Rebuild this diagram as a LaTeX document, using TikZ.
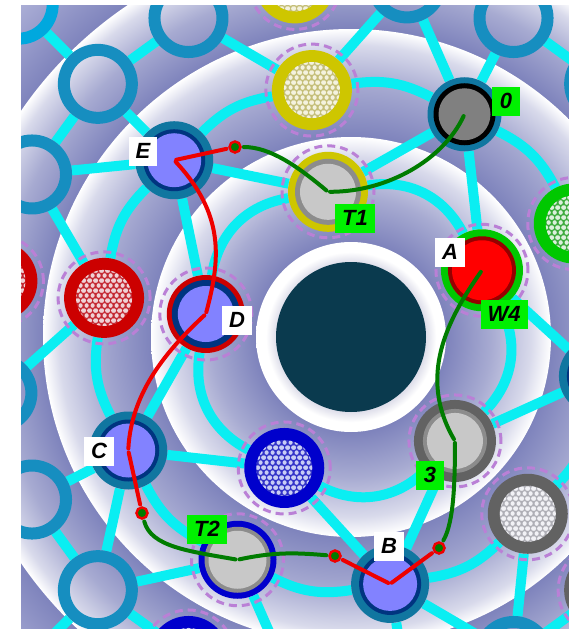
\documentclass[tikz,border=0pt]{standalone}
\usepackage{fontspec}
\setmainfont{Liberation Sans}
\usetikzlibrary{calc,patterns}

\definecolor{bandblue}{RGB}{126,131,188}
\colorlet{bandmid}{bandblue!68!white}
\colorlet{bandpale}{bandblue!30!white}
\definecolor{bandlight}{RGB}{178,181,218}
\definecolor{haloin}{RGB}{222,222,234}
\definecolor{coredark}{RGB}{10,58,78}
\definecolor{linkcyan}{RGB}{10,238,242}
\definecolor{ringteal}{RGB}{22,142,192}
\definecolor{ringsky}{RGB}{0,168,222}
\definecolor{nodeteal}{RGB}{16,118,160}
\definecolor{navyring}{RGB}{0,52,128}
\definecolor{purpfill}{RGB}{130,130,255}
\definecolor{dashlav}{RGB}{186,128,214}
\definecolor{routered}{RGB}{238,0,0}
\definecolor{routegreen}{RGB}{0,124,0}
\definecolor{taggreen}{RGB}{0,240,0}
\definecolor{yelring}{RGB}{206,198,0}
\definecolor{grnring}{RGB}{0,200,0}
\definecolor{redring}{RGB}{204,0,0}
\definecolor{bluring}{RGB}{0,0,204}
\definecolor{gryring}{RGB}{98,98,98}
\definecolor{midgray}{RGB}{140,140,140}
\definecolor{zerogray}{RGB}{128,128,128}
\definecolor{lgray}{RGB}{200,200,200}
\definecolor{dkred}{RGB}{150,0,0}
\definecolor{yelmesh}{RGB}{196,190,120}
\definecolor{yeldot}{RGB}{244,242,222}
\definecolor{redmesh}{RGB}{196,40,50}
\definecolor{reddot}{RGB}{240,210,214}
\definecolor{blumesh}{RGB}{50,50,200}
\definecolor{bludot}{RGB}{200,205,245}
\definecolor{grnmesh}{RGB}{60,170,60}
\definecolor{grndot}{RGB}{220,240,220}
\definecolor{grymesh}{RGB}{175,175,182}
\definecolor{grydot}{RGB}{242,242,246}

\pgfdeclareradialshading{bandout}{\pgfpointorigin}{color(0bp)=(bandblue); color(20.8bp)=(bandblue); color(25bp)=(bandlight); color(50bp)=(bandlight)}
\pgfdeclareradialshading{bandthree}{\pgfpointorigin}{color(0bp)=(bandblue); color(19.25bp)=(bandblue); color(22.1bp)=(bandmid); color(24.1bp)=(bandpale); color(25bp)=(white); color(50bp)=(white)}
\pgfdeclareradialshading{bandtwo}{\pgfpointorigin}{color(0bp)=(bandblue); color(16.2bp)=(bandblue); color(20.6bp)=(bandmid); color(23.7bp)=(bandpale); color(25bp)=(white); color(50bp)=(white)}
\pgfdeclareradialshading{bandone}{\pgfpointorigin}{color(0bp)=(bandblue); color(11.9bp)=(bandblue); color(17.5bp)=(bandmid); color(22.5bp)=(bandpale); color(25bp)=(white); color(50bp)=(white)}
\pgfdeclareradialshading{halo}{\pgfpointorigin}{color(0bp)=(haloin); color(19.7bp)=(haloin); color(22.4bp)=(white); color(25bp)=(white); color(50bp)=(white)}

\pgfdeclarepatternformonly{hexdots}{\pgfpointorigin}{\pgfpoint{6pt}{10.392pt}}{\pgfpoint{6pt}{10.392pt}}{%
  \pgfpathcircle{\pgfpoint{3pt}{2.598pt}}{2.4pt}%
  \pgfpathcircle{\pgfpoint{0pt}{7.794pt}}{2.4pt}%
  \pgfpathcircle{\pgfpoint{6pt}{7.794pt}}{2.4pt}%
  \pgfusepath{fill}}

\pgfdeclarelayer{background}
\pgfdeclarelayer{front}
\pgfsetlayers{background,main,front}

\tikzset{
  hollow/.style={circle,draw=ringteal,line width=12pt,minimum size=68pt,inner sep=0pt},
  ringed/.style n args={6}{circle,inner sep=0pt,minimum size=#2,fill=#1,
    path picture={\fill[#3] (path picture bounding box.center) circle (#4);
                  \fill[#5] (path picture bounding box.center) circle (#6);}},
  hatched/.style n args={3}{circle,inner sep=0pt,minimum size=80pt,fill=#1,
    path picture={\fill[#2] (path picture bounding box.center) circle (28pt);
                  \fill[pattern=hexdots,pattern color=#3] (path picture bounding box.center) circle (28pt);}},
  purp/.style={ringed={nodeteal}{78pt}{navyring}{31pt}{purpfill}{27pt}},
  link/.style={draw=linkcyan,line width=10pt},
  dashring/.style={draw=dashlav,line width=3pt,dash pattern=on 8pt off 5pt},
  route/.style={line width=4pt,line cap=round,shorten <=2pt,shorten >=2pt},
  junction/.style={circle,draw=routered,fill=routegreen,line width=2.5pt,minimum size=11pt,inner sep=0pt},
  tagbox/.style={rectangle,inner xsep=7pt,inner ysep=0pt,minimum width=28pt,minimum height=29pt,
    font=\fontsize{22}{22}\selectfont\bfseries\itshape},
}

\begin{document}
\begin{tikzpicture}[x=1pt,y=1pt]
\useasboundingbox (0,0) rectangle (569,-629);
\coordinate (ctr) at (351,-337);

% inner ring
\node[ringed={grnring}{82pt}{dkred}{34pt}{red}{30pt}] (a) at ($(ctr)+(27:147)$) {};
\node[ringed={yelring}{80pt}{midgray}{33pt}{lgray}{28pt}] (t1) at ($(ctr)+(99:147)$) {};
\node[ringed={redring}{78pt}{navyring}{34pt}{purpfill}{28pt}] (d) at ($(ctr)+(171:147)$) {};
\node[hatched={bluring}{blumesh}{bludot}] (bh) at ($(ctr)+(243:147)$) {};
\node[ringed={gryring}{82pt}{midgray}{32pt}{lgray}{28pt}] (n3) at ($(ctr)+(315:147)$) {};

% middle ring
\node[hatched={grnring}{grnmesh}{grndot}] (gn) at ($(ctr)+(27:250)$) {};
\node[ringed={nodeteal}{74pt}{black}{31pt}{zerogray}{26pt}] (n0) at ($(ctr)+(63:250)$) {};
\node[hatched={yelring}{yelmesh}{yeldot}] (yh) at ($(ctr)+(99:250)$) {};
\node[purp] (e) at ($(ctr)+(135:250)$) {};
\node[hatched={redring}{redmesh}{reddot}] (rh) at ($(ctr)+(171:250)$) {};
\node[purp] (c) at ($(ctr)+(207:250)$) {};
\node[ringed={bluring}{78pt}{midgray}{33pt}{lgray}{29pt}] (t2) at ($(ctr)+(243:250)$) {};
\node[purp] (b) at ($(ctr)+(279:250)$) {};
\node[hatched={gryring}{grymesh}{grydot}] (wh) at ($(ctr)+(315:250)$) {};
\node[purp] (tr) at ($(ctr)+(351:250)$) {};

% outer ring
\node[hollow] (r3a) at ($(ctr)+(45:358)$) {};
\node[hollow] (r3b) at ($(ctr)+(63:358)$) {};
\node[hollow] (r3c) at ($(ctr)+(81:358)$) {};
\node[hatched={yelring}{yelmesh}{yeldot}] (r3d) at ($(ctr)+(99:358)$) {};
\node[hollow] (r3e) at ($(ctr)+(117:358)$) {};
\node[hollow] (r3f) at ($(ctr)+(135:358)$) {};
\node[hollow] (r3g) at ($(ctr)+(153:358)$) {};
\node[hatched={redring}{redmesh}{reddot}] (r3h) at ($(ctr)+(171:358)$) {};
\node[hollow] (r3i) at ($(ctr)+(189:358)$) {};
\node[hollow] (r3j) at ($(ctr)+(207:358)$) {};
\node[hollow] (r3k) at ($(ctr)+(225:358)$) {};
\node[hatched={bluring}{blumesh}{bludot}] (r3l) at ($(ctr)+(243:358)$) {};
\coordinate (r3m) at ($(ctr)+(261:358)$);
\coordinate (r3n) at ($(ctr)+(279:358)$);
\node[hollow] (r3o) at ($(ctr)+(297:358)$) {};
\node[hatched={gryring}{grymesh}{grydot}] (r3p) at ($(ctr)+(315:358)$) {};
\node[hollow,draw=ringsky] (r4a) at ($(ctr)+(135:470)$) {};
\coordinate (r4b) at ($(ctr)+(225:470)$);

\begin{pgfonlayer}{background}
\shade[shading=bandout] (ctr) circle (480pt);
\shade[shading=bandthree] (ctr) circle (400pt);
\shade[shading=bandtwo] (ctr) circle (308pt);
\shade[shading=bandone] (ctr) circle (200pt);
\shade[shading=halo] (ctr) circle (95pt);
\fill[coredark] (ctr) circle (75pt);
\foreach \p/\q in {gn/n0,n0/yh,yh/e,e/rh,rh/c,c/t2,t2/b,b/wh,wh/tr,tr/gn}
  \draw[link] (\p) to[bend right=18] (\q);
\foreach \p/\q in {a/t1,t1/d,d/bh,bh/n3,n3/a}
  \draw[link] (\p) to[bend right=36] (\q);
\foreach \p/\q in {r4a/r3f,r3f/r3e,r3e/yh,yh/r3c,r3c/n0,r3b/n0,r3b/r3a,r3f/e,r3f/r3g,r3g/e,r3g/rh,
    e/t1,e/d,n0/t1,n0/a,a/tr,n3/tr,rh/r3i,d/c,c/bh,c/r3j,c/r3k,r3j/r3k,r3k/t2,r3k/r3l,r3k/r4b,
    t2/r3m,n3/b,bh/b,b/r3n,b/r3o,wh/r3o,r3o/r3p}
  \draw[link] (\p) -- (\q);
\foreach \n in {a,t1,d,bh,n3,gn,yh,rh,t2,wh,r3d,r3h,r3l,r3p}
  \draw[dashring] (\n.center) circle (46pt);
\end{pgfonlayer}

\begin{pgfonlayer}{front}
\node[junction] (j1) at (235,-147) {};
\node[junction] (j2) at (142,-513) {};
\node[junction] (j3) at (335,-556) {};
\node[junction] (j4) at (439,-548) {};
\end{pgfonlayer}

\draw[route,routered] (e.center) -- (j1);
\draw[route,routered] (e.center) .. controls +(-47:74) and +(75:57) .. (d.center);
\draw[route,routered] (d.center) .. controls +(223:50) and +(87:60) .. (c.center);
\draw[route,routered] (c.center) -- (j2);
\draw[route,routegreen] (j2) .. controls +(-75:35) and +(170:50) .. (t2.center);
\draw[route,routegreen] (t2.center) to[out=12,in=175] (j3);
\draw[route,routered] (j3) -- (b.center);
\draw[route,routered] (b.center) -- (j4);
\draw[route,routegreen] (j4) .. controls +(60:30) and +(-90:40) .. (n3.center);
\draw[route,routegreen] (n3.center) .. controls +(120:75) and +(235:60) .. (a.center);
\draw[route,routegreen] (n0.center) .. controls +(-115:50) and +(0:60) .. (t1.center);
\draw[route,routegreen] (t1.center) .. controls +(140:40) and +(0:35) .. (j1);

\node[tagbox,fill=white] (lE) at (143,-151) {E};
\node[tagbox,fill=taggreen] (l0) at (506,-101) {0};
\node[tagbox,fill=taggreen] (lT1) at (355,-218) {T1};
\node[tagbox,fill=white] (lA) at (450,-252) {A};
\node[tagbox,fill=taggreen] (lW4) at (504,-314) {W4};
\node[tagbox,fill=white] (lD) at (237,-320) {D};
\node[tagbox,fill=white] (lC) at (99,-451) {C};
\node[tagbox,fill=taggreen] (lT2) at (207,-529) {T2};
\node[tagbox,fill=taggreen] (l3) at (430,-475) {3};
\node[tagbox,fill=white] (lB) at (389,-546) {B};

\begin{pgfonlayer}{front}
\fill[white] (0,0) rectangle (21,-629);
\fill[white] (0,0) rectangle (569,-5);
\end{pgfonlayer}
\end{tikzpicture}
\end{document}
